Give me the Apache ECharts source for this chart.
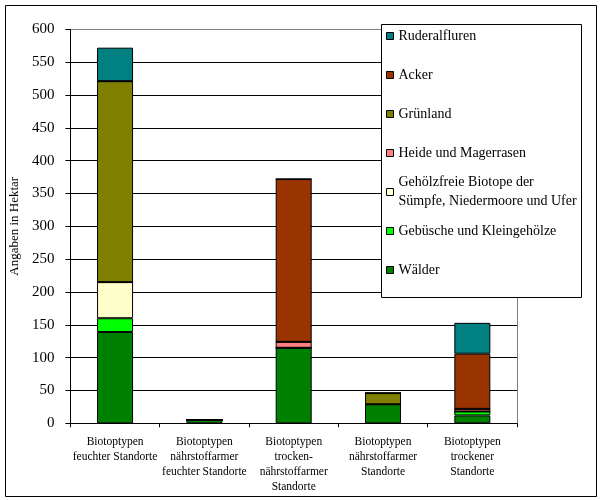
<!DOCTYPE html>
<html>
<head>
<meta charset="utf-8">
<script src="https://cdn.jsdelivr.net/npm/echarts@6/dist/echarts.min.js"></script>
<style>
html,body{margin:0;padding:0;background:#fff;}
#c{width:602px;height:500px;}
</style>
</head>
<body>
<div id="c"></div>
<script>
const categories = [
  "Biotoptypen\nfeuchter Standorte",
  "Biotoptypen\nnährstoffarmer\nfeuchter Standorte",
  "Biotoptypen\ntrocken-\nnährstoffarmer\nStandorte",
  "Biotoptypen\nnährstoffarmer\nStandorte",
  "Biotoptypen\ntrockener\nStandorte"
];
const seriesNames = [
  "Wälder",
  "Gebüsche und Kleingehölze",
  "Gehölzfreie Biotope der Sümpfe, Niedermoore und Ufer",
  "Heide und Magerrasen",
  "Grünland",
  "Acker",
  "Ruderalfluren"
];
const waelder      = [139, 5, 115, 29, 12];
const gebuesche    = [21, 0, 0, 0, 6];
const gehoelzfreie = [55, 0, 0, 0, 0];
const heide        = [0, 0, 9, 0, 4];
const gruenland    = [306, 0, 0, 17, 0];
const acker        = [0, 0, 248, 0, 84];
const ruderal      = [51, 0, 0, 0, 47];
const colors = ["#008000", "#00FF00", "#FFFFCC", "#FF8080", "#808000", "#993300", "#008080"];
const yTicks = [0, 50, 100, 150, 200, 250, 300, 350, 400, 450, 500, 550, 600];

const values = [waelder, gebuesche, gehoelzfreie, heide, gruenland, acker, ruderal];
const FONT = "'Liberation Serif', 'Times New Roman', serif";

const series = seriesNames.map((n, i) => ({
  name: n,
  type: 'bar',
  stack: 'total',
  barWidth: 36,
  data: values[i],
  itemStyle: { color: colors[i], borderColor: '#000', borderWidth: 1 },
  emphasis: { disabled: true },
  z: 3
}));

const legendCenters = [270, 231, 192, 153, 114, 75, 36];
const legends = seriesNames.map((n, i) => {
  const twoLine = i === 2;
  const lg = {
    data: [{ name: n, icon: 'rect' }],
    left: 386,
    padding: 0,
    itemWidth: 7,
    itemHeight: 7,
    itemGap: 5,
    selectedMode: false,
    z: 10,
    itemStyle: { borderColor: '#000', borderWidth: 1 },
    textStyle: { fontFamily: FONT, fontSize: 14, color: '#000', lineHeight: 19 },
    top: legendCenters[i] - 9.5
  };
  if (twoLine) {
    lg.formatter = () => "Gehölzfreie Biotope der\nSümpfe, Niedermoore und Ufer";
    lg.textStyle.padding = [19, 0, 0, 0];
    lg.top = legendCenters[i] - 28.5;
  }
  return lg;
});

const splitColors = yTicks.map((t, i) => i === yTicks.length - 1 ? '#808080' : '#000');

const option = {
  animation: false,
  backgroundColor: '#fff',
  textStyle: { fontFamily: FONT },
  grid: { left: 65, right: 85, top: 29.3, bottom: 76.7 },
  xAxis: {
    type: 'category',
    data: categories,
    axisLine: { lineStyle: { color: '#000', width: 1 } },
    axisTick: { show: true, length: 4, lineStyle: { color: '#000' } },
    axisLabel: { color: '#000', fontFamily: FONT, fontSize: 11.5, lineHeight: 15, margin: 11, interval: 0 }
  },
  yAxis: [{
    type: 'value',
    min: 0, max: 600, interval: 50,
    name: 'Angaben in Hektar',
    nameLocation: 'middle',
    nameGap: 46,
    nameTextStyle: { color: '#000', fontFamily: FONT, fontSize: 13 },
    axisLine: { show: true, lineStyle: { color: '#000', width: 1 } },
    axisTick: { show: true, length: 5, lineStyle: { color: '#000' } },
    axisLabel: { color: '#000', fontFamily: FONT, fontSize: 15, margin: 16 },
    splitLine: { show: true, lineStyle: { color: splitColors, width: 1 } }
  }, {
    type: 'value',
    position: 'right',
    min: 0, max: 600, interval: 50,
    axisLine: { show: true, lineStyle: { color: '#808080', width: 1 } },
    axisTick: { show: false },
    axisLabel: { show: false },
    splitLine: { show: false }
  }],
  legend: legends,
  graphic: [
    { type: 'rect', z: 0, silent: true,
      shape: { x: 5.5, y: 5.5, width: 591, height: 491 },
      style: { fill: 'none', stroke: '#000', lineWidth: 1 } },
    { type: 'rect', z: 8, silent: true,
      shape: { x: 381.5, y: 24.5, width: 200, height: 273 },
      style: { fill: '#fff', stroke: '#000', lineWidth: 1 } }
  ],
  series: series
};

const chart = echarts.init(document.getElementById('c'), null, { renderer: 'canvas' });
chart.setOption(option);
</script>
</body>
</html>
